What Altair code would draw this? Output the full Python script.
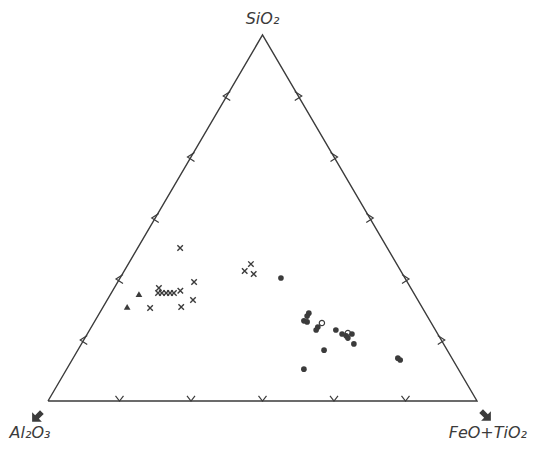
import altair as alt
import pandas as pd

# ---- data (percent SiO2, Al2O3, FeO+TiO2) ----
cross_sio2 = [41.8, 32.5, 30.9, 29.5, 29.5, 29.5, 29.5, 29.5, 30.1, 27.6, 25.4, 25.7, 37.4, 35.5, 34.7]
cross_feo = [9.9, 17.8, 10.4, 10.9, 11.8, 12.8, 13.7, 14.6, 15.8, 20.0, 11.1, 18.2, 28.6, 28.1, 30.6]
cross_al2o3 = [48.3, 49.7, 58.7, 59.6, 58.7, 57.7, 56.8, 55.9, 54.1, 52.4, 63.5, 56.1, 34.0, 36.4, 34.7]

tri_sio2 = [29.2, 25.7]
tri_feo = [6.6, 5.6]
tri_al2o3 = [64.2, 68.7]

dot_sio2 = [33.6, 24.0, 23.2, 21.9, 21.6, 20.2, 19.4, 19.4, 18.3, 17.8, 18.3, 17.2, 15.6, 13.9, 8.7, 11.2, 11.7]
dot_feo = [37.5, 48.8, 48.8, 48.7, 49.6, 52.8, 52.8, 57.4, 59.4, 60.6, 61.7, 61.3, 63.5, 57.4, 55.3, 76.5, 75.7]
dot_al2o3 = [28.9, 27.2, 28.0, 29.4, 28.8, 27.0, 27.8, 23.2, 22.3, 21.6, 20.0, 21.5, 20.9, 28.7, 36.0, 12.3, 12.6]

open_sio2 = [21.3, 18.6]
open_feo = [53.2, 60.6]
open_al2o3 = [25.5, 20.8]

tick_sixths = [1, 2, 3, 4, 5]
vertex_labels = ["SiO₂", "Al₂O₃", "FeO+TiO₂"]

INK = "#3b3b3b"


def to_xy(sio2, al2o3, feo):
    rows = []
    for s, a, f in zip(sio2, al2o3, feo):
        t = s + a + f
        s_, f_ = s / t, f / t
        rows.append({"X": f_ + s_ / 2, "Y": s_})
    return pd.DataFrame(rows)


xs = alt.Scale(domain=[0, 1], range=[40, 469])
ys = alt.Scale(domain=[0, 1], range=[393, 27])
X = alt.X("X:Q", scale=xs, axis=None)
Y = alt.Y("Y:Q", scale=ys, axis=None)

# triangle outline
tri_df = pd.DataFrame({"X": [0, 0.5, 1, 0], "Y": [0, 1, 0, 0], "o": [0, 1, 2, 3]})
outline = alt.Chart(tri_df).mark_line(color=INK, strokeWidth=1.4).encode(x=X, y=Y, order="o:Q")

# tick chevrons
k = [v / 6 for v in tick_sixths]
bottom = pd.DataFrame({"X": k, "Y": [0] * len(k)})
left = pd.DataFrame({"X": [v / 2 for v in k], "Y": k})
right = pd.DataFrame({"X": [1 - v / 2 for v in k], "Y": k})

tick_bottom = alt.Chart(bottom).mark_point(
    shape="M-1,-1.3L0,0L1,-1.3", size=64, filled=False, color=INK, strokeWidth=1.2, opacity=1
).encode(x=X, y=Y)
tick_left = alt.Chart(left).mark_point(
    shape="M0.7,-0.9L-0.7,0L0.7,0.9", size=100, filled=False, color=INK, strokeWidth=1.2, opacity=1
).encode(x=X, y=Y)
tick_right = alt.Chart(right).mark_point(
    shape="M-0.7,-0.9L0.7,0L-0.7,0.9", size=100, filled=False, color=INK, strokeWidth=1.2, opacity=1
).encode(x=X, y=Y)

# data points
crosses = alt.Chart(to_xy(cross_sio2, cross_al2o3, cross_feo)).mark_point(
    shape="M-1,-1L1,1M1,-1L-1,1", size=30, filled=False, color=INK, strokeWidth=1.4, opacity=1
).encode(x=X, y=Y)
triangles = alt.Chart(to_xy(tri_sio2, tri_al2o3, tri_feo)).mark_point(
    shape="triangle-up", size=45, filled=True, color=INK, opacity=1
).encode(x=X, y=Y)
dots = alt.Chart(to_xy(dot_sio2, dot_al2o3, dot_feo)).mark_point(
    shape="circle", size=32, filled=True, color=INK, opacity=1
).encode(x=X, y=Y)
opens = alt.Chart(to_xy(open_sio2, open_al2o3, open_feo)).mark_point(
    shape="circle", size=28, filled=False, color=INK, strokeWidth=1.2, opacity=1
).encode(x=X, y=Y)

# vertex labels
font = dict(font="DejaVu Sans", fontSize=16, fontStyle="italic", color=INK, baseline="alphabetic")
lab_top = alt.Chart(pd.DataFrame({"X": [0.5], "Y": [1], "t": [vertex_labels[0]]})).mark_text(
    dx=0, dy=-11, **font
).encode(x=X, y=Y, text="t:N")
lab_left = alt.Chart(pd.DataFrame({"X": [0], "Y": [0], "t": [vertex_labels[1]]})).mark_text(
    dx=-18, dy=37, **font
).encode(x=X, y=Y, text="t:N")
lab_right = alt.Chart(pd.DataFrame({"X": [1], "Y": [0], "t": [vertex_labels[2]]})).mark_text(
    dx=50, dy=37, align="right", **font
).encode(x=X, y=Y, text="t:N")

# corner arrows
arrow = "M-0.38,-1L0.38,-1L0.38,0L1,0L0,1L-1,0L-0.38,0Z"
arr_left = alt.Chart(pd.DataFrame({"X": [0], "Y": [0]})).mark_point(
    shape=arrow, size=190, filled=True, color=INK, opacity=1, angle=45, xOffset=-11, yOffset=16
).encode(x=X, y=Y)
arr_right = alt.Chart(pd.DataFrame({"X": [1], "Y": [0]})).mark_point(
    shape=arrow, size=190, filled=True, color=INK, opacity=1, angle=315, xOffset=9, yOffset=15
).encode(x=X, y=Y)

chart = alt.layer(
    outline, tick_bottom, tick_left, tick_right,
    crosses, triangles, dots, opens,
    lab_top, lab_left, lab_right, arr_left, arr_right,
).properties(
    width=521, height=435, padding=0, autosize=alt.AutoSizeParams(type="none"), background="white"
).configure_view(stroke=None)

chart.save("out.html", embed_options={"renderer": "svg", "actions": False})
